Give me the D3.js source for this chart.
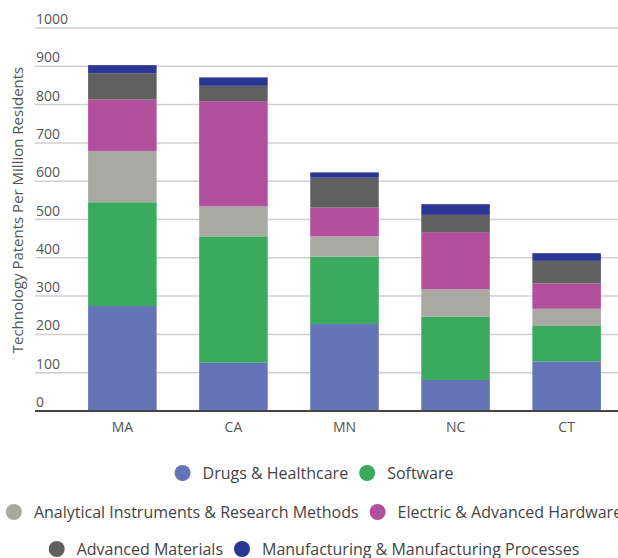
<!DOCTYPE html>
<html>
<head>
<meta charset="utf-8">
<script src="https://cdn.jsdelivr.net/npm/d3@7"></script>
<style>
	body { margin: 0; background: #fff; overflow: hidden; }
	text { font-family: "Open Sans", sans-serif; }
</style>
</head>
<body>
<svg id="chart" width="618" height="558"></svg>
<script>
// states along the x axis
var states = ["MA", "CA", "MN", "NC", "CT"];

// one array per technology class, same order as states
var drugs         = [274, 126, 227,  81, 129];
var software      = [271, 330, 176, 165,  93];
var analytical    = [134,  78,  53,  72,  45];
var electric      = [134, 275,  75, 149,  66];
var materials     = [ 69,  40,  78,  45,  59];
var manufacturing = [ 21,  22,  14,  28,  20];

var seriesNames = ["Drugs & Healthcare", "Software", "Analytical Instruments & Research Methods",
	"Electric & Advanced Hardware", "Advanced Materials", "Manufacturing & Manufacturing Processes"];
var seriesColors = ["#6573b7", "#3aaa5e", "#a9a9a4", "#b2509d", "#5f605f", "#2b3593"];
var yTicks = [0, 100, 200, 300, 400, 500, 600, 700, 800, 900, 1000];
var legendRows = [[0, 1], [2, 3], [4, 5]];

var svg = d3.select("#chart");
var plotLeft = 35, plotRight = 618, plotTop = 28, plotBottom = 411;

// build rows for d3.stack
var allSeries = [drugs, software, analytical, electric, materials, manufacturing];
var table = states.map(function(s, i){
	var row = {state: s};
	for(var k = 0; k < seriesNames.length; k++) row[seriesNames[k]] = allSeries[k][i];
	return row;
});
var stacked = d3.stack().keys(seriesNames)(table);

var x = d3.scaleBand().domain(states).range([67, 622]).paddingInner(0.383).paddingOuter(0.19);
var y = d3.scaleLinear().domain([0, 1000]).range([plotBottom, plotTop]);

// gridlines
svg.append("g")
	.selectAll("line")
	.data(yTicks.filter(function(d){ return d > 0; }))
	.enter().append("line")
		.attr("x1", plotLeft).attr("x2", plotRight)
		.attr("y1", function(d){ return y(d); })
		.attr("y2", function(d){ return y(d); })
		.attr("stroke", "#cfcfcf")
		.attr("stroke-width", 1.5);

// tick labels sit above the line
svg.append("g")
	.selectAll("text")
	.data(yTicks)
	.enter().append("text")
		.attr("x", 36)
		.attr("y", function(d){ return y(d) - 4; })
		.attr("font-size", 14)
		.attr("fill", "#555")
		.text(function(d){ return d; });

// bars
svg.append("g")
	.selectAll("g")
	.data(stacked)
	.enter().append("g")
		.attr("fill", function(d, i){ return seriesColors[i]; })
	.selectAll("rect")
	.data(function(d){ return d; })
	.enter().append("rect")
		.attr("x", function(d){ return x(d.data.state); })
		.attr("width", x.bandwidth())
		.attr("y", function(d){ return y(d[1]); })
		.attr("height", function(d){ return y(d[0]) - y(d[1]); });

// baseline
svg.append("line")
	.attr("x1", plotLeft).attr("x2", plotRight)
	.attr("y1", plotBottom).attr("y2", plotBottom)
	.attr("stroke", "#444")
	.attr("stroke-width", 2);

// x labels
svg.append("g")
	.selectAll("text")
	.data(states)
	.enter().append("text")
		.attr("x", function(d){ return x(d) + x.bandwidth() / 2; })
		.attr("y", 432)
		.attr("text-anchor", "middle")
		.attr("font-size", 14)
		.attr("fill", "#555")
		.text(function(d){ return d; });

// y axis title
svg.append("text")
	.attr("transform", "translate(23,210) rotate(-90)")
	.attr("text-anchor", "middle")
	.attr("font-size", 15)
	.attr("fill", "#555")
	.text("Technology Patents Per Million Residents");

// legend, rows centered
var rowY = [473, 512, 549];
var legendCenter = 314;
for(var r = 0; r < legendRows.length; r++){
	var g = svg.append("g");
	var cursor = 0;
	for(var j = 0; j < legendRows[r].length; j++){
		var idx = legendRows[r][j];
		g.append("circle")
			.attr("cx", cursor + 8).attr("cy", 0).attr("r", 8)
			.attr("fill", seriesColors[idx]);
		var t = g.append("text")
			.attr("x", cursor + 28).attr("y", 5.5)
			.attr("font-size", 16)
			.attr("fill", "#444")
			.text(seriesNames[idx]);
		cursor += 28 + t.node().getComputedTextLength() + 11;
	}
	cursor -= 11;
	g.attr("transform", "translate(" + (legendCenter - cursor / 2) + "," + rowY[r] + ")");
}
</script>
</body>
</html>
